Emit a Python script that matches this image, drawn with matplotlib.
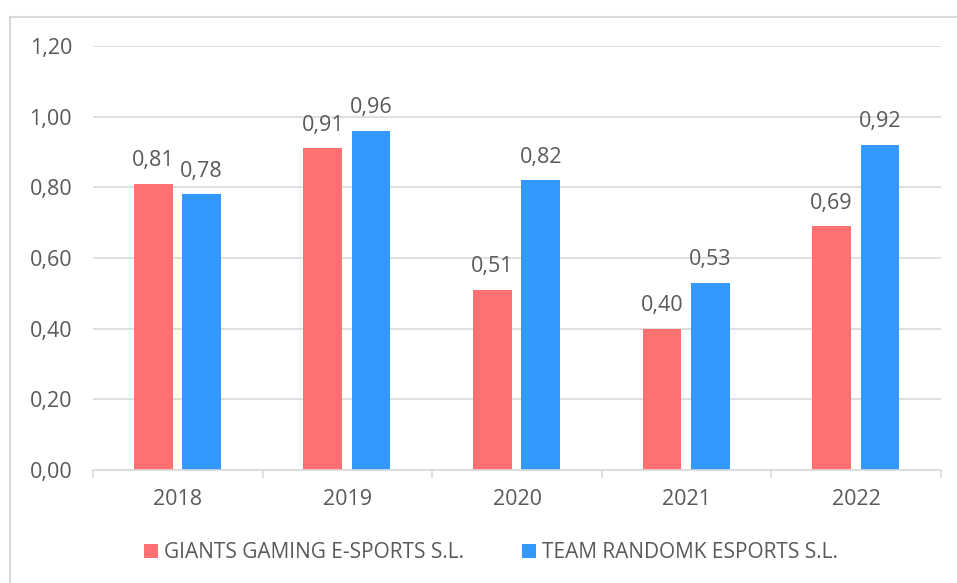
import matplotlib.pyplot as plt
import numpy as np
from matplotlib.patches import Rectangle
from matplotlib.ticker import FixedLocator

years = ['2018', '2019', '2020', '2021', '2022']
giants = [0.81, 0.91, 0.51, 0.40, 0.69]
randomk = [0.78, 0.96, 0.82, 0.53, 0.92]
name1 = 'GIANTS GAMING E-SPORTS S.L.'
name2 = 'TEAM RANDOMK ESPORTS S.L.'

plt.rcParams['font.family'] = ['Open Sans', 'DejaVu Sans']
txt = '#595959'
grid = '#d9d9d9'

fig = plt.figure(figsize=(9.57, 5.83), dpi=100)
W, H = 957, 583
ax = fig.add_axes([93 / W, 1 - 470 / H, (941 - 93) / W, (470 - 46) / H])

# chart frame (cropped at right and bottom)
fig.patches.append(Rectangle((10 / W, -0.1), 2, 1 - 17 / H + 0.1, transform=fig.transFigure,
                             fill=False, edgecolor=grid, linewidth=1.5))

x = np.arange(len(years))
width = 0.228
r1 = ax.bar(x - 0.145, giants, width, color='#ff7070', label=name1)
r2 = ax.bar(x + 0.14, randomk, width, color='#3399ff', label=name2)

for rects in (r1, r2):
    for rect in rects:
        h = rect.get_height()
        ax.annotate('{:.2f}'.format(h).replace('.', ','),
                    xy=(rect.get_x() + rect.get_width() / 2, h),
                    xytext=(0, 9), textcoords='offset points',
                    ha='center', va='bottom', fontsize=15.5, color=txt)

ax.set_xlim(-0.5, len(years) - 0.5)
ax.set_ylim(0, 1.2)
ax.set_yticks(np.arange(0, 1.21, 0.2))
ax.set_yticklabels(['{:.2f}'.format(v).replace('.', ',') for v in np.arange(0, 1.21, 0.2)])
ax.set_xticks(x)
ax.set_xticklabels(years)
ax.xaxis.set_minor_locator(FixedLocator(np.arange(-0.5, len(years), 1)))
ax.tick_params(axis='x', which='major', length=0, pad=14, labelsize=15.5, labelcolor=txt)
ax.tick_params(axis='x', which='minor', length=6, color=grid, width=1.2)
ax.tick_params(axis='y', length=0, pad=15, labelsize=15.5, labelcolor=txt)
ax.grid(axis='y', color=grid, linewidth=1.2)
ax.set_axisbelow(True)
for s in ('top', 'right', 'left'):
    ax.spines[s].set_visible(False)
ax.spines['bottom'].set_color(grid)
ax.spines['bottom'].set_linewidth(1.2)

leg = fig.legend(handles=[r1, r2], loc='center', bbox_to_anchor=(491 / W, 1 - 553 / H),
                 ncol=2, frameon=False, fontsize=15, handlelength=0.68, handleheight=0.68,
                 handletextpad=0.3, columnspacing=2.75)
for t in leg.get_texts():
    t.set_color(txt)

fig.savefig('out.png', dpi=100)
